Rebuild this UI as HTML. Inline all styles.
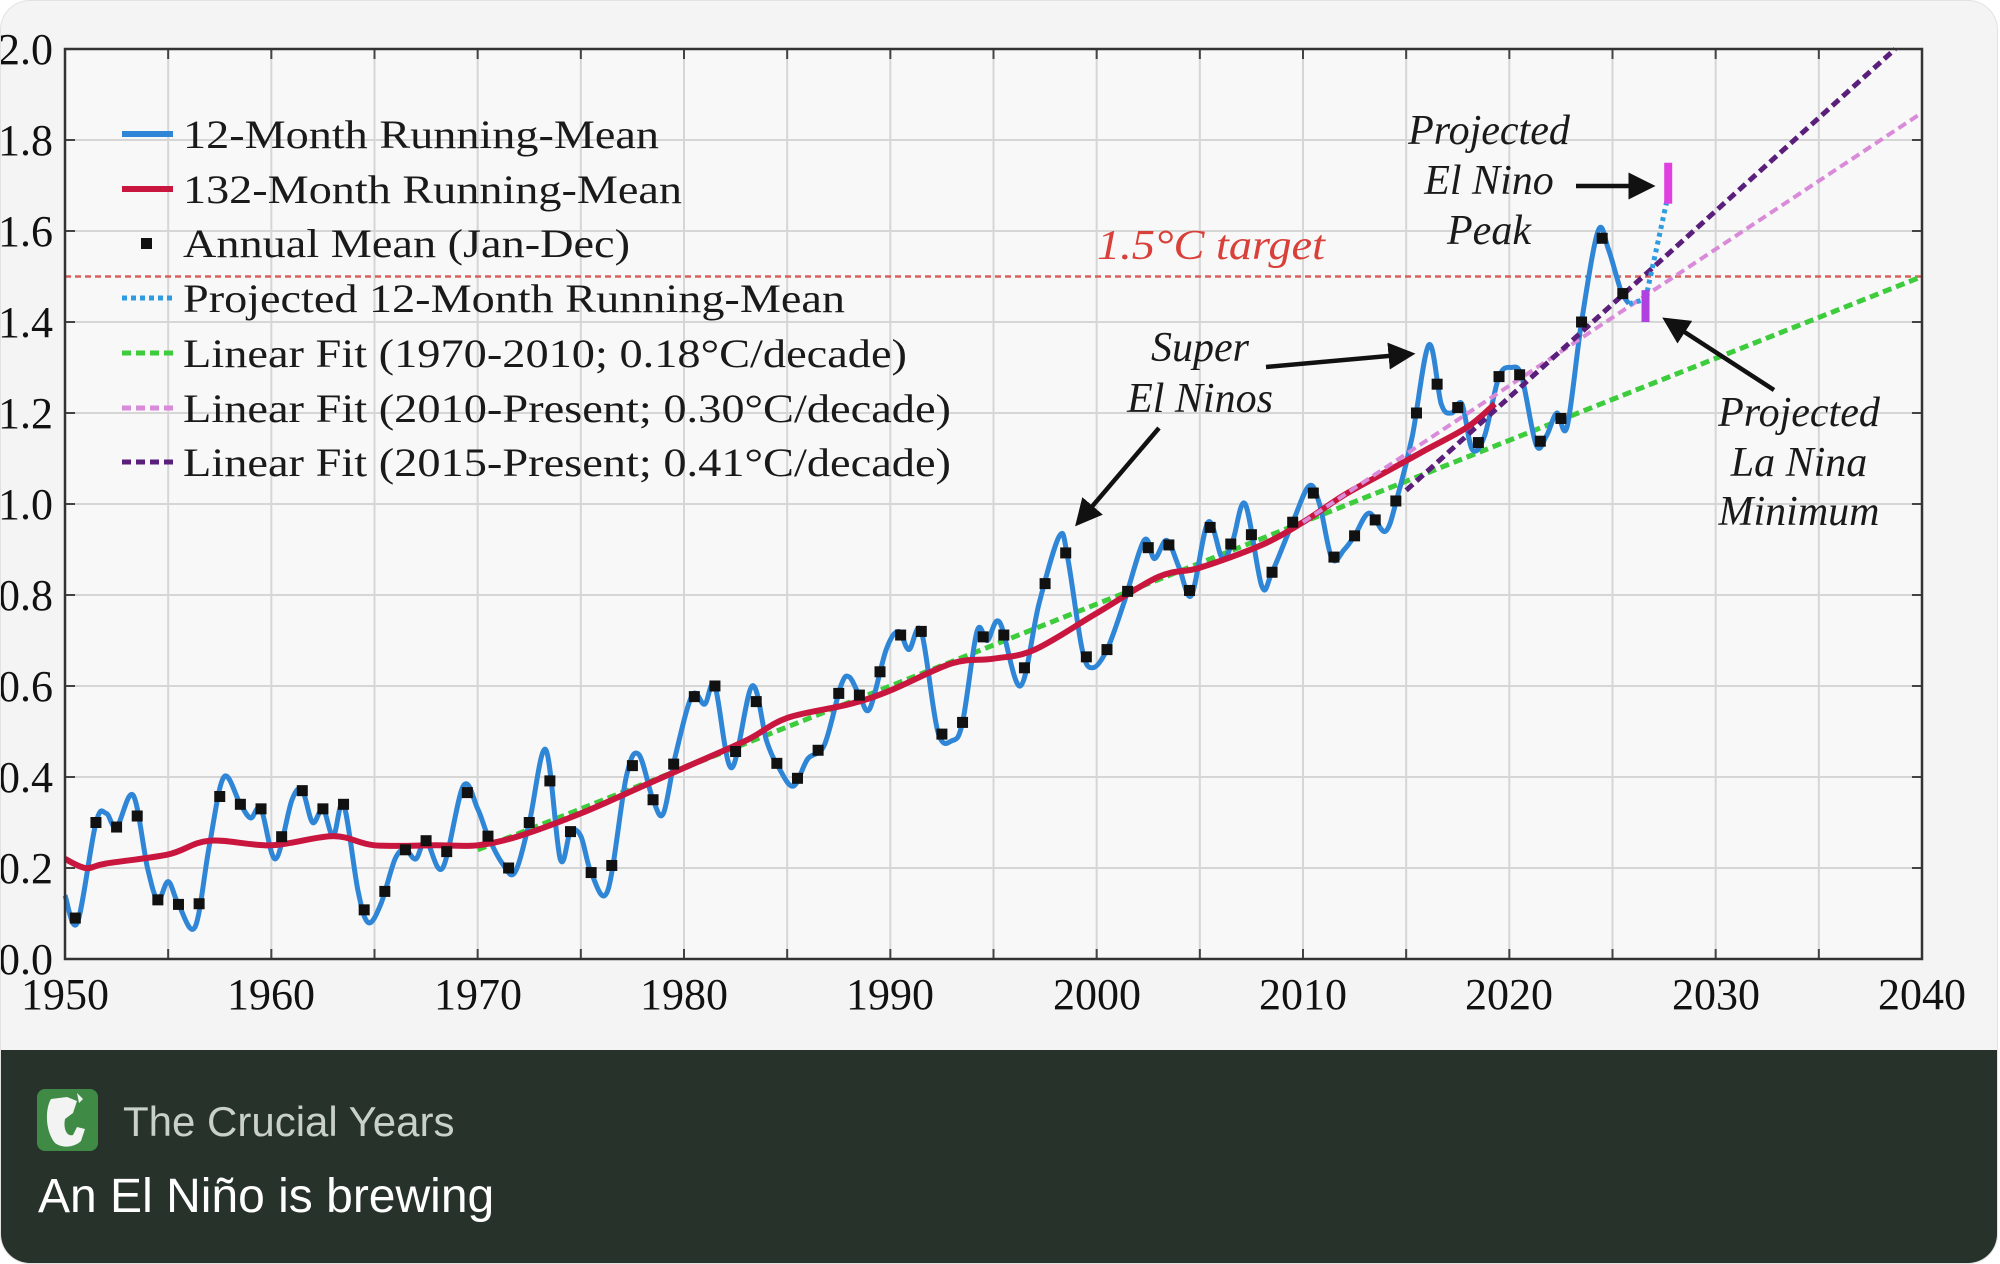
<!DOCTYPE html>
<html><head><meta charset="utf-8">
<style>
html,body{margin:0;padding:0;background:#ffffff;}
body{width:2000px;height:1264px;overflow:hidden;position:relative;}
.card{position:absolute;left:0;top:0;width:1998px;height:1264px;border-radius:30px;overflow:hidden;background:#f4f4f4;border:1px solid #e2e2e2;box-sizing:border-box;}
.foot{position:absolute;left:0;top:1049px;width:100%;height:215px;background:#27322a;}
.icon{position:absolute;left:36px;top:1088px;width:61px;height:62px;border-radius:8px;background:#3f8a44;overflow:hidden;}
.t1{position:absolute;left:122px;top:1097px;font:42px "Liberation Sans",sans-serif;color:#c9d0c8;white-space:nowrap;}
.t2{position:absolute;left:37px;top:1168px;font:48px "Liberation Sans",sans-serif;color:#ffffff;white-space:nowrap;}
svg{position:absolute;left:0;top:0;}
</style></head><body>
<div class="card">
<svg id="ch" width="2000" height="1049" viewBox="0 0 2000 1049" font-family="Liberation Serif, serif">
<rect x="64" y="48" width="1857" height="910" fill="#f8f8f8"/>
<g id="grid"></g>
<g id="series"></g>
<rect x="64" y="48" width="1857" height="910" fill="none" stroke="#333" stroke-width="2.5"/>
<g font-size="44" fill="#111" text-anchor="end" id="ylab">
<text x="52" y="63">2.0</text><text x="52" y="154">1.8</text><text x="52" y="245">1.6</text><text x="52" y="336">1.4</text><text x="52" y="427">1.2</text><text x="52" y="518">1.0</text><text x="52" y="609">0.8</text><text x="52" y="700">0.6</text><text x="52" y="791">0.4</text><text x="52" y="882">0.2</text><text x="52" y="973">0.0</text>
</g>
<g font-size="44" fill="#111" text-anchor="middle">
<text x="64" y="1008">1950</text><text x="270" y="1008">1960</text><text x="477" y="1008">1970</text><text x="683" y="1008">1980</text><text x="889" y="1008">1990</text><text x="1096" y="1008">2000</text><text x="1302" y="1008">2010</text><text x="1508" y="1008">2020</text><text x="1715" y="1008">2030</text><text x="1921" y="1008">2040</text>
</g>
<g font-size="40" fill="#1a1a1a">
<line x1="121" y1="133" x2="172" y2="133" stroke="#2f86d6" stroke-width="6"/>
<text x="182" y="147" textLength="476" lengthAdjust="spacingAndGlyphs">12-Month Running-Mean</text>
<line x1="121" y1="188" x2="172" y2="188" stroke="#c8163f" stroke-width="6"/>
<text x="182" y="202" textLength="499" lengthAdjust="spacingAndGlyphs">132-Month Running-Mean</text>
<rect x="140" y="237" width="11" height="11" fill="#111"/>
<text x="182" y="256" textLength="447" lengthAdjust="spacingAndGlyphs">Annual Mean (Jan-Dec)</text>
<line x1="121" y1="297" x2="172" y2="297" stroke="#2f9be0" stroke-width="5" stroke-dasharray="5,4"/>
<text x="182" y="311" textLength="662" lengthAdjust="spacingAndGlyphs">Projected 12-Month Running-Mean</text>
<line x1="121" y1="352" x2="172" y2="352" stroke="#3ccc3c" stroke-width="5" stroke-dasharray="9,5"/>
<text x="182" y="366" textLength="724" lengthAdjust="spacingAndGlyphs">Linear Fit (1970-2010; 0.18°C/decade)</text>
<line x1="121" y1="407" x2="172" y2="407" stroke="#d98ad8" stroke-width="5" stroke-dasharray="9,5"/>
<text x="182" y="421" textLength="768" lengthAdjust="spacingAndGlyphs">Linear Fit (2010-Present; 0.30°C/decade)</text>
<line x1="121" y1="461" x2="172" y2="461" stroke="#5a1f7a" stroke-width="5" stroke-dasharray="9,5"/>
<text x="182" y="475" textLength="768" lengthAdjust="spacingAndGlyphs">Linear Fit (2015-Present; 0.41°C/decade)</text>
</g>
<g font-size="42" font-style="italic" fill="#1a1a1a" text-anchor="middle">
<text x="1210" y="258" fill="#d9403a" textLength="228" lengthAdjust="spacingAndGlyphs">1.5°C target</text>
<text x="1488" y="143">Projected</text><text x="1488" y="193">El Nino</text><text x="1488" y="243">Peak</text>
<text x="1199" y="360">Super</text><text x="1199" y="411">El Ninos</text>
<text x="1798" y="425">Projected</text><text x="1798" y="475">La Nina</text><text x="1798" y="524">Minimum</text>
</g>
<defs><marker id="ah" markerWidth="6" markerHeight="6" refX="5" refY="3" orient="auto" markerUnits="strokeWidth"><path d="M0,0 L6,3 L0,6 z" fill="#111"/></marker></defs>
<g stroke="#111" stroke-width="4.5" fill="none" marker-end="url(#ah)">
<line x1="1575" y1="185" x2="1650" y2="185"/>
<line x1="1265" y1="366" x2="1410" y2="353"/>
<line x1="1158" y1="427" x2="1077" y2="522"/>
<line x1="1773" y1="389" x2="1665" y2="319"/>
</g>
</svg>
<div class="foot"></div>
<div class="icon"><svg width="61" height="62" viewBox="0 0 61 62"><path d="M14,10 C8,20 8,42 18,54 C26,60 38,58 44,52 L48,40 L40,38 L36,46 C30,48 26,40 28,30 L36,24 L40,12 L30,8 Z" fill="#f3f3f3"/><path d="M40,4 L46,10 L42,14 Z" fill="#f3f3f3"/></svg></div>
<div class="t1">The Crucial Years</div>
<div class="t2">An El Niño is brewing</div>
</div>
<script>
(function(){
var NS="http://www.w3.org/2000/svg";
function X(y){return 64+(y-1950)*(1857/90);}
function Y(v){return 958-v*455;}
var grid=document.getElementById('grid'),ser=document.getElementById('series');
function el(tag,attrs,parent){var e=document.createElementNS(NS,tag);for(var k in attrs)e.setAttribute(k,attrs[k]);parent.appendChild(e);return e;}
for(var yr=1955;yr<2040;yr+=5){el('line',{x1:X(yr),y1:48,x2:X(yr),y2:958,stroke:'#d6d6d6','stroke-width':2},grid);
 el('line',{x1:X(yr),y1:948,x2:X(yr),y2:958,stroke:'#444','stroke-width':2},grid);el('line',{x1:X(yr),y1:48,x2:X(yr),y2:58,stroke:'#444','stroke-width':2},grid);}
for(var v=0.2;v<2.0;v+=0.2){el('line',{x1:64,y1:Y(v),x2:1921,y2:Y(v),stroke:'#d6d6d6','stroke-width':2},grid);
 el('line',{x1:64,y1:Y(v),x2:74,y2:Y(v),stroke:'#444','stroke-width':2},grid);el('line',{x1:1911,y1:Y(v),x2:1921,y2:Y(v),stroke:'#444','stroke-width':2},grid);}
var B=[[1950,0.14],[1950.6,0.08],[1951.5,0.30],[1952,0.32],[1952.5,0.29],[1953.3,0.36],[1954,0.2],[1954.5,0.13],[1955,0.17],[1955.5,0.12],[1956.3,0.07],[1957,0.25],[1957.7,0.40],[1958.5,0.34],[1959,0.31],[1959.5,0.33],[1960.2,0.22],[1961,0.35],[1961.5,0.37],[1962,0.3],[1962.5,0.33],[1963,0.27],[1963.5,0.34],[1964.2,0.15],[1964.7,0.08],[1965.3,0.12],[1966,0.22],[1966.5,0.24],[1967,0.22],[1967.5,0.26],[1968.3,0.2],[1969.3,0.38],[1970,0.33],[1970.5,0.27],[1971.2,0.21],[1971.8,0.19],[1972.5,0.30],[1973.3,0.46],[1974,0.22],[1974.5,0.28],[1975,0.27],[1975.5,0.19],[1976.3,0.15],[1977.2,0.40],[1977.8,0.45],[1978.5,0.35],[1979,0.32],[1979.6,0.45],[1980.4,0.58],[1981,0.56],[1981.5,0.60],[1982.3,0.42],[1983.3,0.60],[1984,0.48],[1984.6,0.42],[1985.3,0.38],[1986,0.44],[1986.8,0.47],[1987.6,0.60],[1988,0.62],[1988.5,0.58],[1989,0.55],[1989.8,0.68],[1990.4,0.72],[1990.9,0.68],[1991.5,0.72],[1992.3,0.50],[1993,0.48],[1993.5,0.52],[1994.2,0.72],[1994.7,0.70],[1995.3,0.74],[1996.3,0.60],[1997.2,0.78],[1998.2,0.93],[1998.6,0.88],[1999.3,0.68],[1999.8,0.64],[2000.5,0.68],[2001.3,0.78],[2002.3,0.92],[2002.8,0.88],[2003.4,0.92],[2004,0.86],[2004.6,0.80],[2005.4,0.96],[2006.1,0.88],[2006.6,0.92],[2007.2,1.00],[2008,0.82],[2008.5,0.85],[2009.5,0.96],[2010.3,1.04],[2010.8,1.00],[2011.4,0.88],[2012,0.90],[2012.5,0.93],[2013.2,0.98],[2014,0.94],[2014.6,1.02],[2015.3,1.15],[2016.1,1.35],[2016.7,1.22],[2017.2,1.20],[2017.7,1.22],[2018.2,1.12],[2018.8,1.15],[2019.5,1.28],[2020.1,1.30],[2020.6,1.28],[2021.3,1.13],[2021.8,1.15],[2022.3,1.20],[2022.8,1.17],[2023.5,1.40],[2024.3,1.60],[2024.8,1.56],[2025.4,1.47],[2025.8,1.44]];
var R=[[1950,0.22],[1951,0.20],[1952,0.21],[1955,0.23],[1957,0.26],[1960,0.25],[1963,0.27],[1965,0.25],[1968,0.25],[1970,0.25],[1972,0.27],[1975,0.32],[1978,0.38],[1980,0.42],[1983,0.48],[1985,0.53],[1988,0.56],[1990,0.59],[1993,0.65],[1995,0.66],[1997,0.68],[2000,0.76],[2003,0.84],[2005,0.86],[2008,0.91],[2010,0.96],[2012,1.02],[2014,1.07],[2016,1.12],[2018,1.17],[2019.3,1.22]];
function smooth(P){var d='M'+X(P[0][0]).toFixed(1)+','+Y(P[0][1]).toFixed(1);
 for(var i=0;i<P.length-1;i++){var p0=P[i-1]||P[i],p1=P[i],p2=P[i+1],p3=P[i+2]||P[i+1];
  var x1=X(p1[0]),y1=Y(p1[1]),x2=X(p2[0]),y2=Y(p2[1]);
  var c1x=x1+(X(p2[0])-X(p0[0]))/6,c1y=y1+(Y(p2[1])-Y(p0[1]))/6,c2x=x2-(X(p3[0])-X(p1[0]))/6,c2y=y2-(Y(p3[1])-Y(p1[1]))/6;
  d+=' C'+c1x.toFixed(1)+','+c1y.toFixed(1)+' '+c2x.toFixed(1)+','+c2y.toFixed(1)+' '+x2.toFixed(1)+','+y2.toFixed(1);}
 return d;}
function ln(y0,v0,y1,v1,col,w,da){el('line',{x1:X(y0),y1:Y(v0),x2:X(y1),y2:Y(v1),stroke:col,'stroke-width':w,'stroke-dasharray':da||''},ser);}
ln(1950,1.5,2040,1.5,'#d9605a',2.5,'6,4');
ln(1970,0.24,2040,1.5,'#3ccc3c',5,'9,5');
el('path',{d:smooth(B),fill:'none',stroke:'#2f86d6','stroke-width':5,'stroke-linejoin':'round'},ser);
el('path',{d:smooth(R),fill:'none',stroke:'#c8163f','stroke-width':6},ser);
ln(2010,0.96,2040,1.86,'#d98ad8',4,'9,5');
ln(2015,1.03,2038.7,2.0,'#5a1f7a',5,'9,5');
ln(2025.8,1.44,2026.6,1.45,'#2f9be0',5,'4,4');
ln(2026.6,1.45,2027.7,1.68,'#2f9be0',5,'4,4');
el('rect',{x:X(2027.7)-4,y:Y(1.75),width:8,height:Y(1.66)-Y(1.75),fill:'#e040e0'},ser);
el('rect',{x:X(2026.6)-4,y:Y(1.47),width:8,height:Y(1.40)-Y(1.47),fill:'#b040e0'},ser);
function interp(t){for(var i=0;i<B.length-1;i++){if(t>=B[i][0]&&t<=B[i+1][0]){var f=(t-B[i][0])/(B[i+1][0]-B[i][0]);return B[i][1]+f*(B[i+1][1]-B[i][1]);}}return null;}
for(var yr=1950;yr<=2025;yr++){var v=interp(yr+0.5);if(v===null)continue;el('rect',{x:X(yr+0.5)-5.5,y:Y(v)-5.5,width:11,height:11,fill:'#111'},ser);}
})();
</script>
</body></html>
